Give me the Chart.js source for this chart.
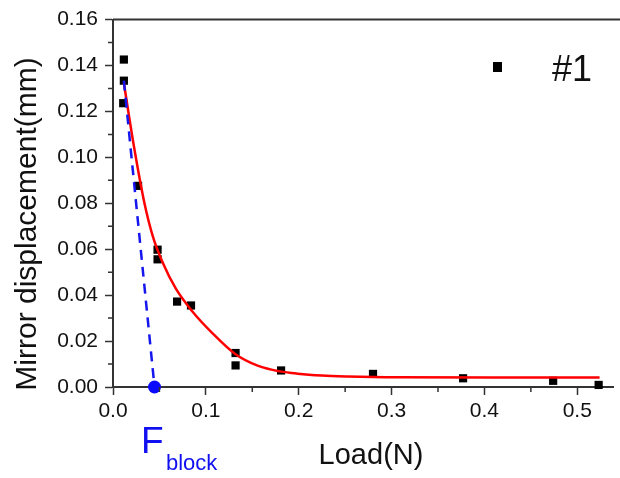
<!DOCTYPE html>
<html>
<head>
<meta charset="utf-8">
<script src="https://cdn.jsdelivr.net/npm/chart.js@4"></script>
<style>
  html, body { margin: 0; padding: 0; background: #fff; }
  #wrap { width: 620px; height: 478px; }
</style>
</head>
<body>
<div id="wrap"><canvas id="chart" width="620" height="478"></canvas></div>
<script>
// measured points (#1)
const loadN = [0.0117, 0.0117, 0.011, 0.027, 0.048, 0.048, 0.069, 0.084, 0.132, 0.132, 0.181, 0.280, 0.377, 0.474, 0.523];
const dispMm = [0.1426, 0.1334, 0.1236, 0.0876, 0.0598, 0.0556, 0.0372, 0.0355, 0.0148, 0.0094, 0.0072, 0.0057, 0.0038, 0.0027, 0.0009];

// red fitted curve
const fitLoad = [0.0117, 0.0223, 0.034, 0.0429, 0.0535, 0.0677, 0.0855, 0.1067, 0.1316, 0.1564, 0.18, 0.199, 0.225, 0.252, 0.305, 0.41, 0.524];
const fitDisp = [0.1324, 0.1054, 0.0798, 0.0656, 0.0542, 0.0428, 0.0329, 0.0236, 0.0144, 0.0092, 0.0068, 0.0058, 0.0050, 0.0046, 0.0042, 0.0041, 0.0041];

// blue dashed line to F_block
const blockLoad = [0.0117, 0.0447];
const blockDisp = [0.1334, 0];

const xTicks = [0, 0.1, 0.2, 0.3, 0.4, 0.5];
const xMinor = [0.05, 0.15, 0.25, 0.35, 0.45];
const yTicks = [0, 0.02, 0.04, 0.06, 0.08, 0.10, 0.12, 0.14, 0.16];
const yMinor = [0.01, 0.03, 0.05, 0.07, 0.09, 0.11, 0.13, 0.15];

const FONT = '"Liberation Sans", Arial, sans-serif';
const AXIS = '#333';

const toXY = (xs, ys) => xs.map((x, i) => ({ x: x, y: ys[i] }));

// minor ticks, top frame line, titles and the little legend
const decorations = {
    id: 'decorations',
    afterDraw(chart) {
        const ctx = chart.ctx;
        const xs = chart.scales.x, ys = chart.scales.y;
        const area = chart.chartArea;
        ctx.save();
        ctx.strokeStyle = AXIS;
        ctx.lineWidth = 1.5;
        ctx.beginPath();
        xMinor.forEach(v => {
            const px = xs.getPixelForValue(v);
            ctx.moveTo(px, area.bottom);
            ctx.lineTo(px, area.bottom + 5);
        });
        yMinor.forEach(v => {
            const py = ys.getPixelForValue(v);
            ctx.moveTo(area.left, py);
            ctx.lineTo(area.left - 5, py);
        });
        ctx.stroke();

        ctx.lineWidth = 2;
        ctx.beginPath();
        ctx.moveTo(area.left, area.top);
        ctx.lineTo(chart.width, area.top);
        ctx.stroke();

        // y title
        ctx.fillStyle = '#111';
        ctx.font = '30px ' + FONT;
        ctx.textAlign = 'center';
        ctx.textBaseline = 'middle';
        ctx.translate(28, 224);
        ctx.rotate(-Math.PI / 2);
        ctx.fillText('Mirror displacement(mm)', 0, 0);
        ctx.setTransform(1, 0, 0, 1, 0, 0);

        // x title
        ctx.textBaseline = 'alphabetic';
        ctx.font = '29px ' + FONT;
        ctx.fillText('Load(N)', 371, 464);

        // F_block
        ctx.fillStyle = '#1010f0';
        ctx.textAlign = 'left';
        ctx.font = '37px ' + FONT;
        ctx.fillText('F', 141, 453);
        ctx.font = '22px ' + FONT;
        ctx.fillText('block', 166, 470);

        // legend
        ctx.fillStyle = '#000';
        ctx.fillRect(493, 62, 9, 10);
        ctx.fillStyle = '#111';
        ctx.font = '36px ' + FONT;
        ctx.fillText('#1', 552, 81);
        ctx.restore();
    }
};

new Chart(document.getElementById('chart'), {
    type: 'scatter',
    data: {
        datasets: [{
            label: 'F_block',
            data: toXY(blockLoad, blockDisp),
            showLine: true,
            borderColor: '#1515ee',
            borderWidth: 2.5,
            borderDash: [10, 7],
            pointRadius: [0, 6.5],
            pointBackgroundColor: '#0a0aff',
            pointBorderWidth: 0,
            clip: false,
            order: 1
        }, {
            label: 'fit',
            data: toXY(fitLoad, fitDisp),
            showLine: true,
            borderColor: '#ff0000',
            borderWidth: 2.5,
            cubicInterpolationMode: 'monotone',
            pointRadius: 0,
            clip: false,
            order: 2
        }, {
            label: '#1',
            data: toXY(loadN, dispMm),
            pointStyle: 'rect',
            pointRadius: 5.8,
            pointBackgroundColor: '#000',
            pointBorderWidth: 0,
            clip: false,
            order: 3
        }]
    },
    options: {
        responsive: false,
        animation: false,
        layout: { padding: { top: 12, right: 0, left: 0, bottom: 0 } },
        plugins: { legend: { display: false }, tooltip: { enabled: false } },
        scales: {
            x: {
                type: 'linear',
                min: 0,
                max: 0.539,
                afterBuildTicks: s => { s.ticks = xTicks.map(v => ({ value: v })); },
                afterFit: s => { s.height = 91; },
                border: { color: AXIS, width: 2 },
                grid: { drawOnChartArea: false, drawTicks: true, tickLength: 8, tickColor: AXIS, tickWidth: 1.5 },
                ticks: {
                    color: '#111',
                    font: { family: FONT, size: 21 },
                    padding: 4,
                    maxRotation: 0,
                    callback: v => v.toFixed(1)
                }
            },
            y: {
                type: 'linear',
                min: 0,
                max: 0.16,
                afterBuildTicks: s => { s.ticks = yTicks.map(v => ({ value: v })); },
                afterFit: s => { s.width = 113; },
                border: { color: AXIS, width: 2 },
                grid: { drawOnChartArea: false, drawTicks: true, tickLength: 8, tickColor: AXIS, tickWidth: 1.5 },
                ticks: {
                    color: '#111',
                    font: { family: FONT, size: 21 },
                    padding: 7,
                    callback: v => v.toFixed(2)
                }
            }
        }
    },
    plugins: [decorations]
});
</script>
</body>
</html>
